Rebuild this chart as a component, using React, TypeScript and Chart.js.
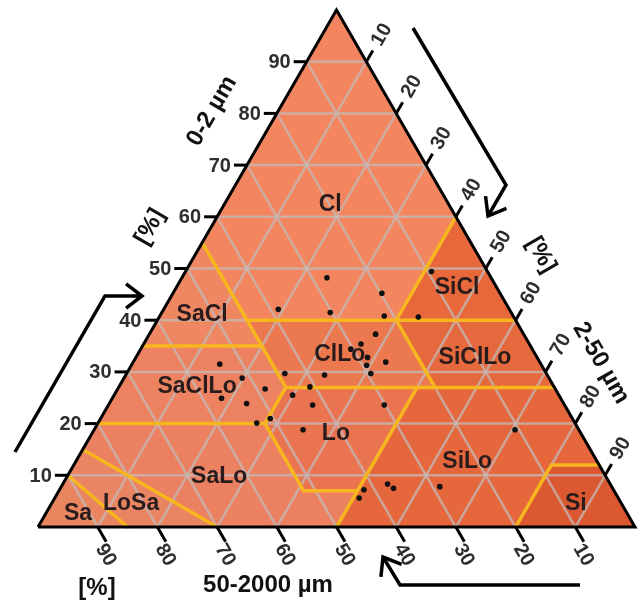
import React, { useEffect, useRef } from 'react';
import { Chart, registerables } from 'chart.js';
Chart.register(...registerables);

// ---- data ----
const TICKS = [10, 20, 30, 40, 50, 60, 70, 80, 90];

// sample points: clay (0-2 µm) and silt (2-50 µm) percentages
const SAMPLE_CLAY = [48.2, 45.2, 49.4, 42.1, 41.5, 40.8, 40.6, 37.3, 35.4, 34.4, 32.8, 31.3, 31.9, 29.7, 29.4, 29.7, 27.1, 31.5, 28.8, 26.7, 24.9, 23.9, 25.5, 23.6, 23.6, 21.0, 20.1, 18.8, 18.8, 7.2, 5.6, 8.3, 7.5, 7.8];
const SAMPLE_SILT = [24.3, 35.0, 41.2, 19.2, 28.2, 37.6, 43.4, 37.9, 36.4, 35.2, 38.8, 39.4, 42.3, 26.5, 33.3, 40.9, 32.0, 14.7, 19.8, 24.7, 18.3, 23.0, 29.9, 34.2, 46.2, 28.4, 26.6, 35.0, 70.5, 51.0, 51.0, 54.4, 55.8, 63.4];

// texture classes
const CLASS_NAMES = ['Cl', 'SiCl', 'SaCl', 'SaClLo', 'ClLo', 'SiClLo', 'Lo', 'SaLo', 'LoSa', 'Sa', 'SiLo', 'Si'];
const CLASS_COLORS = ['#f3865e', '#e8683b', '#ef8763', '#ed8261', '#ec784f', '#e6683d', '#ea7450', '#eb8161', '#ea8563', '#e9855f', '#e5673b', '#db5830'];
// polygon vertices as [clay, silt]
const CLASS_POLYS: number[][][] = [
  [[100, 0], [55, 0], [40, 15], [40, 40], [60, 40]],
  [[60, 40], [40, 40], [40, 60]],
  [[55, 0], [35, 0], [35, 20], [40, 15]],
  [[35, 0], [20, 0], [20, 28], [27, 28], [35, 20]],
  [[40, 15], [35, 20], [27, 28], [27, 53], [40, 40]],
  [[40, 40], [27, 53], [27, 73], [40, 60]],
  [[27, 28], [20, 28], [7, 41], [7, 50], [27, 50]],
  [[20, 0], [20, 28], [7, 41], [7, 50], [0, 50], [0, 30], [15, 0]],
  [[15, 0], [0, 30], [0, 15], [10, 0]],
  [[10, 0], [0, 15], [0, 0]],
  [[27, 50], [0, 50], [0, 80], [12, 80], [12, 88], [27, 73]],
  [[12, 80], [0, 80], [0, 100], [12, 88]],
];
// class label anchors
const LABEL_CLAY = [62.3, 46.2, 41.0, 27.1, 33.3, 32.7, 18.0, 9.7, 4.6, 2.5, 12.6, 4.6];
const LABEL_SILT = [17.8, 47.1, 7.0, 13.1, 33.9, 56.85, 40.9, 25.5, 13.3, 5.45, 65.6, 87.8];

// class boundary segments [clay, silt] -> [clay, silt]
const BOUNDARIES: number[][][] = [
  [[40, 15], [40, 60]],
  [[55, 0], [27, 28]],
  [[35, 0], [35, 20]],
  [[27, 28], [27, 73]],
  [[27, 28], [20, 28]],
  [[20, 0], [20, 28]],
  [[20, 28], [7, 41]],
  [[7, 41], [7, 50]],
  [[27, 50], [0, 50]],
  [[40, 40], [60, 40]],
  [[40, 40], [27, 53]],
  [[12, 80], [12, 88]],
  [[12, 80], [0, 80]],
  [[15, 0], [0, 30]],
  [[10, 0], [0, 15]],
];

const pt = (clay: number, silt: number) => ({ x: silt + clay / 2, y: clay });

export default function App() {
  const ref = useRef<HTMLCanvasElement>(null);
  useEffect(() => {
    const canvas = ref.current!;
    const datasets: any[] = [];

    // region fills
    CLASS_POLYS.forEach((poly, i) => {
      const data = poly.map(([c, s]) => pt(c, s));
      data.push(data[0]);
      datasets.push({
        data, showLine: true, fill: 'shape', backgroundColor: CLASS_COLORS[i],
        borderColor: CLASS_COLORS[i], borderWidth: 0.5, pointRadius: 0, order: 5, tension: 0, clip: false,
      });
    });

    // grid
    const gridColor = 'rgba(196,186,184,0.75)';
    TICKS.forEach((k) => {
      const lines = [
        [pt(k, 0), pt(k, 100 - k)],
        [pt(0, k), pt(100 - k, k)],
        [pt(0, 100 - k), pt(100 - k, 0)],
      ];
      lines.forEach((data) => datasets.push({
        data, showLine: true, fill: false, borderColor: gridColor, borderWidth: 2.5, pointRadius: 0, order: 4, clip: false,
      }));
    });

    // class boundaries
    BOUNDARIES.forEach((seg) => datasets.push({
      data: seg.map(([c, s]) => pt(c, s)), showLine: true, fill: false, borderColor: '#f8b61e',
      borderWidth: 3.5, pointRadius: 0, order: 3, clip: false, borderCapStyle: 'round',
    }));

    // outline
    datasets.push({
      data: [pt(0, 0), pt(0, 100), pt(100, 0), pt(0, 0)], showLine: true, fill: false,
      borderColor: '#000', borderWidth: 3, pointRadius: 0, order: 2, clip: false, borderJoinStyle: 'miter',
    });

    // samples
    datasets.push({
      data: SAMPLE_CLAY.map((c, i) => pt(c, SAMPLE_SILT[i])), showLine: false,
      pointRadius: 2.8, pointBackgroundColor: '#111', pointBorderWidth: 0, order: 1, clip: false,
    });

    const FONT = '"Liberation Sans", Arial, sans-serif';

    const deco = {
      id: 'deco',
      afterDatasetsDraw(chart: any) {
        const ctx: CanvasRenderingContext2D = chart.ctx;
        const xs = chart.scales.x, ys = chart.scales.y;
        const px = (clay: number, silt: number) => [xs.getPixelForValue(silt + clay / 2), ys.getPixelForValue(clay)];
        const rotText = (t: string, x: number, y: number, a: number, font: string, color: string) => {
          ctx.save();
          ctx.translate(x, y);
          ctx.rotate(a);
          ctx.font = font;
          ctx.fillStyle = color;
          ctx.textAlign = 'center';
          ctx.textBaseline = 'middle';
          ctx.fillText(t, 0, 0);
          ctx.restore();
        };
        ctx.save();
        ctx.strokeStyle = '#000';
        ctx.lineWidth = 3;
        const tickFont = `bold 20px ${FONT}`;
        const tickColor = '#2e2e30';
        const c60 = 0.5, s60 = Math.sqrt(3) / 2;
        TICKS.forEach((k) => {
          // left: clay
          let [ex, ey] = px(k, 0);
          ctx.beginPath(); ctx.moveTo(ex, ey); ctx.lineTo(ex - 13, ey); ctx.stroke();
          ctx.font = tickFont; ctx.fillStyle = tickColor; ctx.textAlign = 'right'; ctx.textBaseline = 'middle';
          ctx.fillText(String(k), ex - 16, ey + 1);
          // right: silt
          [ex, ey] = px(100 - k, k);
          ctx.beginPath(); ctx.moveTo(ex, ey); ctx.lineTo(ex + c60 * 13, ey - s60 * 13); ctx.stroke();
          rotText(String(k), ex + c60 * 31, ey - s60 * 31, -Math.PI / 3, tickFont, tickColor);
          // bottom: sand
          [ex, ey] = px(0, 100 - k);
          ctx.beginPath(); ctx.moveTo(ex, ey); ctx.lineTo(ex + c60 * 17, ey + s60 * 17); ctx.stroke();
          rotText(String(k), ex + 8, ey + 28, Math.PI / 3, tickFont, tickColor);
        });

        // class labels
        CLASS_NAMES.forEach((n, i) => {
          const [x, y] = px(LABEL_CLAY[i], LABEL_SILT[i]);
          rotText(n, x, y, 0, `bold 23px ${FONT}`, '#2a1c1c');
        });

        // axis titles
        const tFont = `bold 24px ${FONT}`;
        rotText('0-2 µm', 212, 111, -Math.PI / 3, tFont, '#111');
        rotText('[%]', 150, 227, -Math.PI / 3, tFont, '#111');
        rotText('[%]', 541, 255, Math.PI / 3, tFont, '#111');
        rotText('2-50 µm', 601, 363, Math.PI / 3, tFont, '#111');
        rotText('[%]', 97, 588, 0, tFont, '#111');
        rotText('50-2000 µm', 268, 585, 0, `bold 24px ${FONT}`, '#111');

        // arrows
        const arrow = (pts: number[][]) => {
          ctx.lineWidth = 3.5;
          ctx.lineJoin = 'miter';
          ctx.beginPath();
          ctx.moveTo(pts[0][0], pts[0][1]);
          for (let i = 1; i < pts.length; i++) ctx.lineTo(pts[i][0], pts[i][1]);
          ctx.stroke();
          const [tx, ty] = pts[pts.length - 1];
          const [bx, by] = pts[pts.length - 2];
          const a = Math.atan2(ty - by, tx - bx);
          const L = 20, w = 0.65;
          ctx.beginPath();
          ctx.moveTo(tx - L * Math.cos(a - w), ty - L * Math.sin(a - w));
          ctx.lineTo(tx, ty);
          ctx.lineTo(tx - L * Math.cos(a + w), ty - L * Math.sin(a + w));
          ctx.stroke();
        };
        arrow([[15, 452], [105, 296], [142, 296]]);
        arrow([[413, 28], [506, 185], [488, 216]]);
        arrow([[580, 585], [400, 585], [383, 557]]);
        ctx.restore();
      },
    };

    const chart = new Chart(canvas, {
      type: 'line',
      data: { datasets },
      options: {
        responsive: false,
        animation: false,
        layout: { padding: { left: 38, right: 7, top: 10, bottom: 77 } },
        scales: {
          x: { type: 'linear', min: 0, max: 100, display: false },
          y: { type: 'linear', min: 0, max: 100, display: false },
        },
        plugins: { legend: { display: false }, tooltip: { enabled: false } },
        elements: { line: { tension: 0 } },
      },
      plugins: [deco],
    });
    return () => chart.destroy();
  }, []);

  return (
    <div style={{ position: 'absolute', left: 0, top: 0, width: 642, height: 604, background: '#fff' }}>
      <canvas ref={ref} width={642} height={604} style={{ width: 642, height: 604 }} />
    </div>
  );
}
